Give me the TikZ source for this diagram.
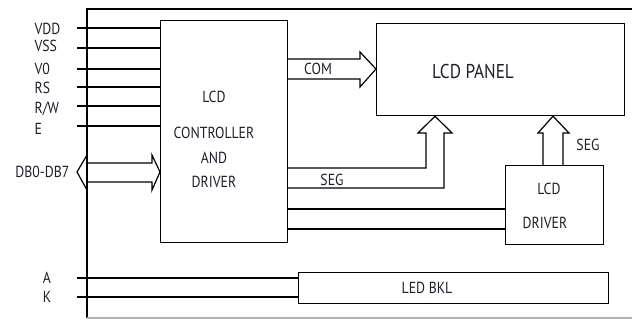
\documentclass[tikz,border=0pt]{standalone}
\usepackage{fontspec}
\setmainfont{PT Sans}[FakeStretch=0.86]
\usetikzlibrary{positioning}
\definecolor{inkdark}{RGB}{30,30,45}

\begin{document}
\begin{tikzpicture}[x=1pt,y=-1pt,line width=1.2pt,
  every node/.style={font=\fontsize{16}{18}\selectfont,text=inkdark,inner sep=1pt},
  box/.style={draw,anchor=north west,inner sep=0pt}]
\useasboundingbox (0,0) rectangle (632,320);
\draw (632,9) -- (87,9) -- (87,318);
\draw[gray!60] (87,318) -- (632,318);

\node[box,minimum width=127pt,minimum height=222pt] (ctrl) at (160,20) {};
\node[box,minimum width=248pt,minimum height=92pt] (panel) at (376,23) {};
\node[box,minimum width=98pt,minimum height=79pt] (drv) at (505,165) {};
\node[box,minimum width=310pt,minimum height=31pt] (bkl) at (298,272) {};

\foreach \row/\txt/\ypos in {0/LCD/97,1/CONTROLLER/133,2/AND/158,3/DRIVER/182}
  \node (C\row) at (214,\ypos) {\txt};
\node[font=\fontsize{20}{22}\selectfont] (paneltxt) at (473,72) {LCD PANEL};
\node (D0) at (549,189) {LCD};
\node (D1) at (545,223) {DRIVER};
\node (bkltxt) at (427,288) {LED BKL};

\foreach \row/\txt/\ypos/\ty in {0/VDD/28/29,1/VSS/48/46,2/V0/69/69,3/RS/87/88,4/{R/W}/106/109,5/E/126/129} {
  \node[anchor=west] (L\row) at (33,\ty) {\txt};
  \coordinate (P\row) at (77,\ypos);
  \draw (P\row) -- (P\row -| ctrl.west);
}

\foreach \row/\txt/\ypos in {0/A/278,1/K/297} {
  \node (B\row) at (47,\ypos) {\txt};
  \coordinate (Q\row) at (77,\ypos);
  \draw (Q\row) -- (Q\row -| bkl.west);
}

\node[anchor=east] (dbtxt) at (71,172) {DB0-DB7};
\coordinate (dbtip) at (77,172);
\draw (dbtip) -- (87,155) -- (87,163) -- (152,163) -- (152,155) -- (dbtip -| ctrl.west)
  -- (152,190) -- (152,182) -- (87,182) -- (87,190) -- cycle;

\draw (ctrl.east |- 0,59) -- (360,59) -- (360,52) -- (panel.west |- 0,69)
  -- (360,87) -- (360,79) -- (ctrl.east |- 0,79);
\node (comtxt) at (318,69) {COM};

\draw (ctrl.east |- 0,168) -- (426,168) -- (426,133) -- (418,133) -- (panel.south -| 435,0)
  -- (452,133) -- (444,133) -- (444,188) -- (ctrl.east |- 0,188);
\node (segA) at (332,180) {SEG};

\draw (drv.north -| 543,0) -- (543,133) -- (538,133) -- (panel.south -| 553,0)
  -- (569,133) -- (563,133) -- (drv.north -| 563,0);
\node (segB) at (588,145) {SEG};

\foreach \ypos in {209,229}
  \draw (ctrl.east |- 0,\ypos) -- (drv.west |- 0,\ypos);
\end{tikzpicture}
\end{document}
